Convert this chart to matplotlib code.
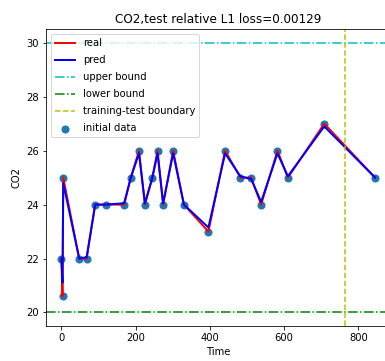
import matplotlib
matplotlib.use("Agg")
import matplotlib.pyplot as plt
import numpy as np

# data
t = [0, 3, 5, 48, 68, 91, 119, 169, 187, 209, 225, 245, 259, 274, 301, 330,
     396, 441, 482, 511, 538, 582, 610, 708, 845]
real = [22, 20.6, 25, 22, 22, 24, 24, 24, 25, 26, 24, 25, 26, 24, 26, 24,
        23, 26, 25, 25, 24, 26, 25, 27, 25]
pred = [22, 21.1, 24.8, 22.0, 22.05, 24, 24, 24.05, 25, 25.9, 24.05, 25, 25.9, 24.05, 25.9, 24,
        23.15, 25.9, 25.05, 24.95, 24.1, 25.9, 25.05, 26.9, 25.0]
upper = 30
lower = 20
boundary = 764
loss = 0.00129

fig = plt.figure(figsize=(385 / 72, 361 / 72), dpi=72)
ax = fig.add_axes([0.1187, 0.097, 0.8964, 0.8219])

ax.plot(t, real, c="r", lw=2, label="real")
ax.plot(t, pred, c="b", lw=2, label="pred")
ax.axhline(upper, c="c", ls="-.", label="upper bound")
ax.axhline(lower, c="g", ls="-.", label="lower bound")
ax.axvline(boundary, c="y", ls="--", label="training-test boundary")
ax.scatter(t, real, s=50, label="initial data")

ax.set_xlim(-42.25, 887.25)
ax.set_ylim(19.5, 30.5)
ax.set_xlabel("Time")
ax.set_ylabel("CO2")
ax.set_title(f"CO2,test relative L1 loss={loss}")
ax.legend(loc="upper left", labelspacing=0.7)

fig.savefig("out.png", dpi=72)
